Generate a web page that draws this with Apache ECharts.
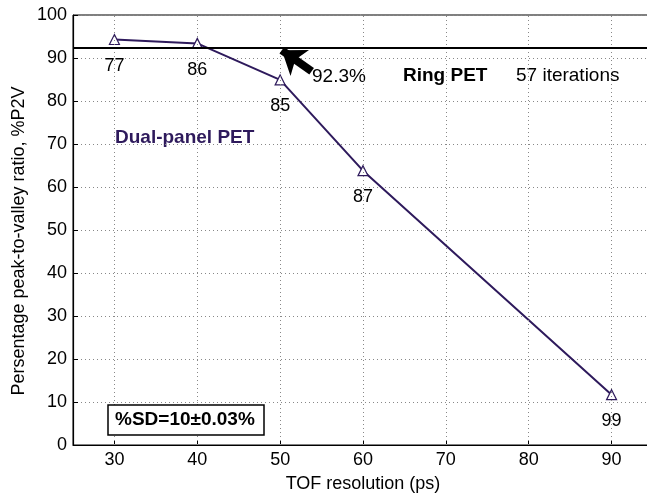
<!DOCTYPE html>
<html>
<head>
<meta charset="utf-8">
<script src="https://cdn.jsdelivr.net/npm/echarts@6/dist/echarts.min.js"></script>
<style>html,body{margin:0;padding:0;background:#fff;}#c{width:647px;height:495px;}</style>
</head>
<body>
<div id="c"></div>
<script>
var tofResolution = [30, 40, 50, 60, 90];
var p2vValues = [94.3, 93.4, 84.9, 63.8, 11.7];
var iterations = ['77', '86', '85', '87', '99'];
var ringP2V = 92.3;
var xTicks = [30, 40, 50, 60, 70, 80, 90];

var FONT = '"Liberation Sans", Arial, sans-serif';
var PURPLE = '#2e1a5c';
var chart = echarts.init(document.getElementById('c'), null, {renderer: 'canvas'});

var option = {
  animation: false,
  backgroundColor: '#fff',
  grid: {
    left: 73, top: 15, width: 580, height: 430,
    outerBoundsMode: 'none', containLabel: false,
    show: true, borderColor: '#000', borderWidth: 1, backgroundColor: 'transparent'
  },
  xAxis: {
    type: 'value', min: 25, max: 95,
    name: 'TOF resolution (ps)', nameLocation: 'middle', nameGap: 30,
    nameTextStyle: {fontFamily: FONT, fontSize: 18, color: '#000'},
    axisLine: {show: true, onZero: false, lineStyle: {color: '#000', width: 1.2}},
    axisTick: {show: true, inside: true, length: 5, customValues: xTicks, lineStyle: {color: '#000'}},
    axisLabel: {fontFamily: FONT, fontSize: 18, color: '#000', margin: 6, customValues: xTicks},
    splitLine: {show: false}
  },
  yAxis: {
    type: 'value', min: 0, max: 100, interval: 10,
    axisLine: {show: true, lineStyle: {color: '#000', width: 1.2}},
    axisTick: {show: true, inside: true, length: 5, lineStyle: {color: '#000'}},
    axisLabel: {fontFamily: FONT, fontSize: 18, color: '#000', margin: 6},
    splitLine: {show: true, lineStyle: {color: '#888', type: [1, 3], width: 1}}
  },
  series: [
    {
      type: 'line', data: [], silent: true,
      markLine: {
        silent: true, symbol: ['none', 'none'], label: {show: false},
        lineStyle: {color: '#888', width: 1, type: [1, 3]},
        data: xTicks.map(function (v) { return {xAxis: v}; })
      },
      z: 1
    },
    {
      type: 'line',
      data: tofResolution.map(function (x, i) { return [x, p2vValues[i]]; }),
      symbol: 'triangle', symbolSize: 10, showAllSymbol: true,
      itemStyle: {color: '#fff', borderColor: PURPLE, borderWidth: 1.2},
      lineStyle: {color: PURPLE, width: 2},
      label: {
        show: true, position: 'bottom', distance: 12,
        fontFamily: FONT, fontSize: 18, color: '#000',
        formatter: function (p) { return iterations[p.dataIndex]; }
      },
      markLine: {
        silent: true, symbol: ['none', 'none'],
        label: {show: false},
        lineStyle: {color: '#000', width: 2, type: 'solid'},
        data: [{yAxis: ringP2V}]
      },
      z: 3
    },
    {
      type: 'line', data: [], silent: true,
      markLine: {
        silent: true,
        symbol: ['none', 'arrow'], symbolSize: [24, 22],
        label: {show: false},
        lineStyle: {color: '#000', width: 8, type: 'solid'},
        data: [[{coord: [53.8, 86.9]}, {coord: [50.2, 91.8]}]]
      },
      z: 4
    }
  ],
  graphic: [
    {type: 'text', x: 19, y: 241, rotation: Math.PI / 2,
     style: {text: 'Persentage peak-to-valley ratio, %P2V', font: '18px ' + FONT, fill: '#000', align: 'center', verticalAlign: 'middle'}},
    {type: 'text', x: 312, y: 77, style: {text: '92.3%', font: '19px ' + FONT, fill: '#000', verticalAlign: 'middle'}},
    {type: 'text', x: 403, y: 76, style: {text: 'Ring PET', font: 'bold 19px ' + FONT, fill: '#000', verticalAlign: 'middle'}},
    {type: 'text', x: 516, y: 76, style: {text: '57 iterations', font: '19px ' + FONT, fill: '#000', verticalAlign: 'middle'}},
    {type: 'text', x: 115, y: 138, style: {text: 'Dual-panel PET', font: 'bold 19px ' + FONT, fill: PURPLE, verticalAlign: 'middle'}},
    {type: 'rect', x: 108, y: 405, shape: {width: 156, height: 30}, style: {fill: '#fff', stroke: '#000', lineWidth: 1.5}, z: 10},
    {type: 'text', x: 115, y: 420, style: {text: '%SD=10\u00b10.03%', font: 'bold 19px ' + FONT, fill: '#000', verticalAlign: 'middle'}, z: 11}
  ]
};
chart.setOption(option);
</script>
</body>
</html>
